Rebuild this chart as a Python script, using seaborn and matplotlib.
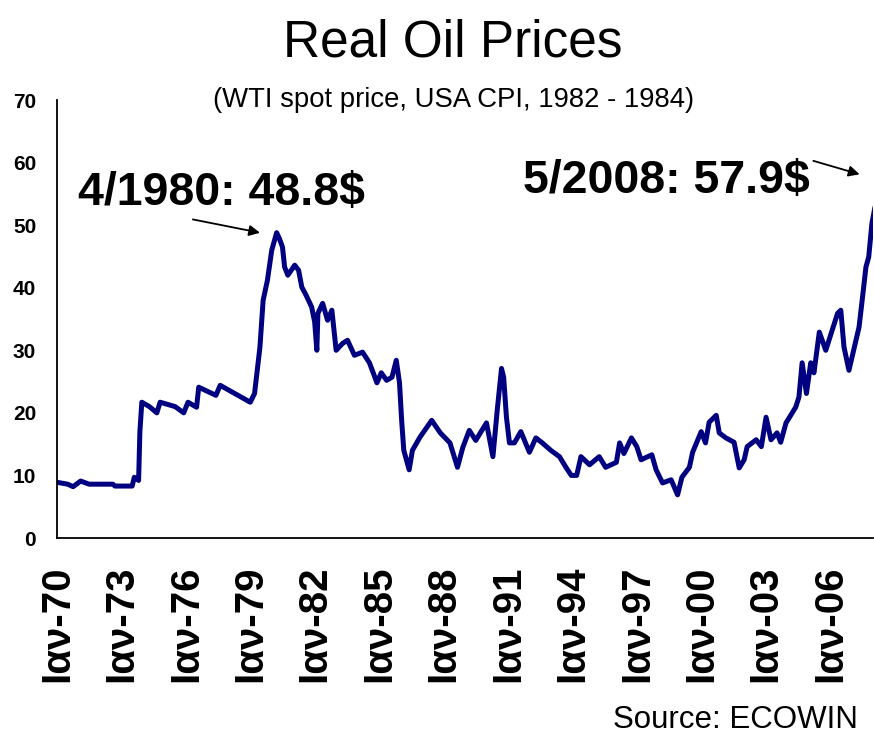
import matplotlib
matplotlib.use("Agg")
import matplotlib.pyplot as plt
import seaborn as sns
import pandas as pd

# real WTI price (1982-84 dollars)
years = [1970.0, 1970.5, 1970.75, 1971.1, 1971.5, 1972.6, 1972.7, 1973.5, 1973.6, 1973.8,
         1973.86, 1973.95, 1974.3, 1974.65, 1974.8, 1975.5, 1975.9, 1976.1, 1976.5, 1976.6,
         1977.4, 1977.6, 1979.0, 1979.2, 1979.45, 1979.6, 1979.8, 1980.0, 1980.23, 1980.35,
         1980.5, 1980.6, 1980.75, 1981.07, 1981.25, 1981.4, 1981.6, 1981.86, 1982.0, 1982.1,
         1982.15, 1982.37, 1982.6, 1982.8, 1983.0, 1983.3, 1983.53, 1983.85, 1984.23, 1984.55,
         1984.9, 1985.1, 1985.35, 1985.6, 1985.8, 1985.95, 1986.05, 1986.15, 1986.4, 1986.55,
         1986.9, 1987.45, 1987.85, 1988.3, 1988.65, 1988.9, 1989.2, 1989.5, 1990.0, 1990.3,
         1990.5, 1990.7, 1990.8, 1990.93, 1991.07, 1991.3, 1991.6, 1992.0, 1992.3, 1992.6,
         1993.0, 1993.4, 1993.7, 1993.95, 1994.2, 1994.4, 1994.8, 1995.25, 1995.55, 1996.05,
         1996.2, 1996.4, 1996.75, 1997.0, 1997.2, 1997.7, 1997.9, 1998.2, 1998.6, 1998.9,
         1999.1, 1999.45, 1999.6, 2000.0, 2000.2, 2000.37, 2000.7, 2000.84, 2001.15, 2001.53,
         2001.77, 2002.0, 2002.14, 2002.56, 2002.8, 2003.02, 2003.25, 2003.53, 2003.7, 2003.95,
         2004.4, 2004.55, 2004.7, 2004.9, 2005.1, 2005.25, 2005.5, 2005.8, 2006.05, 2006.35,
         2006.5, 2006.65, 2006.88, 2007.1, 2007.35, 2007.55, 2007.67, 2007.8, 2007.95, 2008.1,
         2008.33]
price = [8.9, 8.6, 8.2, 9.1, 8.6, 8.6, 8.3, 8.3, 9.7, 9.2,
         17.0, 21.7, 21.0, 20.0, 21.7, 21.0, 20.0, 21.7, 20.9, 24.1,
         22.8, 24.4, 21.7, 23.1, 30.5, 38.0, 41.2, 46.0, 48.8, 47.9,
         46.5, 43.3, 42.0, 43.6, 42.8, 40.1, 38.8, 36.9, 34.5, 30.0,
         35.9, 37.5, 34.8, 36.4, 30.0, 31.1, 31.6, 29.2, 29.7, 28.0,
         24.8, 26.4, 25.2, 25.7, 28.4, 24.8, 18.8, 14.0, 10.9, 14.0,
         16.1, 18.8, 16.8, 15.2, 11.3, 14.5, 17.2, 15.6, 18.4, 13.0,
         20.4, 27.1, 25.7, 19.3, 15.2, 15.2, 17.0, 13.7, 16.0, 15.2,
         14.0, 13.0, 11.3, 10.0, 10.0, 13.0, 11.7, 13.0, 11.3, 12.1,
         15.2, 13.5, 16.0, 14.6, 12.5, 13.3, 10.9, 8.8, 9.3, 6.9,
         9.7, 11.3, 13.7, 17.0, 15.2, 18.5, 19.6, 16.8, 16.0, 15.3,
         11.2, 12.5, 14.6, 15.7, 14.6, 19.3, 15.7, 16.8, 15.3, 18.4,
         20.9, 22.5, 28.0, 23.1, 28.0, 26.4, 32.9, 30.0, 32.7, 35.9,
         36.4, 30.5, 26.8, 30.0, 33.7, 39.6, 43.3, 44.9, 50.3, 53.0,
         57.9]
tick_years = list(range(1970, 2007, 3))
tick_labels = ["Ιαν-%02d" % (y % 100) for y in tick_years]

df = pd.DataFrame({"year": years, "price": price})

sns.set_style("white")
plt.rcParams["font.family"] = ["Liberation Sans", "DejaVu Sans"]
plt.rcParams["text.color"] = "black"
plt.rcParams["xtick.color"] = "black"
plt.rcParams["ytick.color"] = "black"

fig = plt.figure(figsize=(8.74, 7.36), dpi=100)
ax = fig.add_axes([57 / 874, 1 - 538 / 736, 816 / 874, 438 / 736])

sns.lineplot(data=df, x="year", y="price", ax=ax, color="#000080", linewidth=3.6)

ax.set_xlim(1970, 2008.0)
ax.set_ylim(0, 70)
ax.set_yticks(range(0, 71, 10))
ax.set_xticks(tick_years)
ax.set_xticklabels(tick_labels, rotation=90, fontsize=29, fontweight="bold")
for lab in ax.get_yticklabels():
    lab.set_fontsize(15)
    lab.set_fontweight("bold")
ax.tick_params(axis="x", direction="out", length=11, width=1.2, pad=9)
ax.tick_params(axis="y", direction="out", length=7, width=1.2, pad=8)
ax.set_xlabel("")
ax.set_ylabel("")
for side in ["top", "right"]:
    ax.spines[side].set_visible(False)
for side in ["left", "bottom"]:
    ax.spines[side].set_color("black")
    ax.spines[side].set_linewidth(1.3)

fig.text(453 / 874, 1 - 43 / 736, "Real Oil Prices", ha="center", va="center", fontsize=37)
fig.text(454 / 874, 1 - 100 / 736, "(WTI spot price, USA CPI, 1982 - 1984)",
         ha="center", va="center", fontsize=19.8)

fig.text(78 / 874, 1 - 193 / 736, "4/1980: 48.8$", ha="left", va="center",
         fontsize=33.5, fontweight="bold")
fig.text(523 / 874, 1 - 181 / 736, "5/2008: 57.9$", ha="left", va="center",
         fontsize=33.5, fontweight="bold")

arrow = dict(arrowstyle="-|>", color="black", lw=1.3, mutation_scale=16)
ax.annotate("", xy=(1979.58, 48.7), xytext=(1976.2, 51.0), arrowprops=arrow,
            annotation_clip=False)
ax.annotate("", xy=(2007.5, 58.0), xytext=(2005.1, 60.4), arrowprops=arrow,
            annotation_clip=False)

fig.text(858 / 874, 1 - 720 / 736, "Source: ECOWIN", ha="right", va="center", fontsize=22.5)

fig.savefig("out.png", dpi=100, facecolor="white")
